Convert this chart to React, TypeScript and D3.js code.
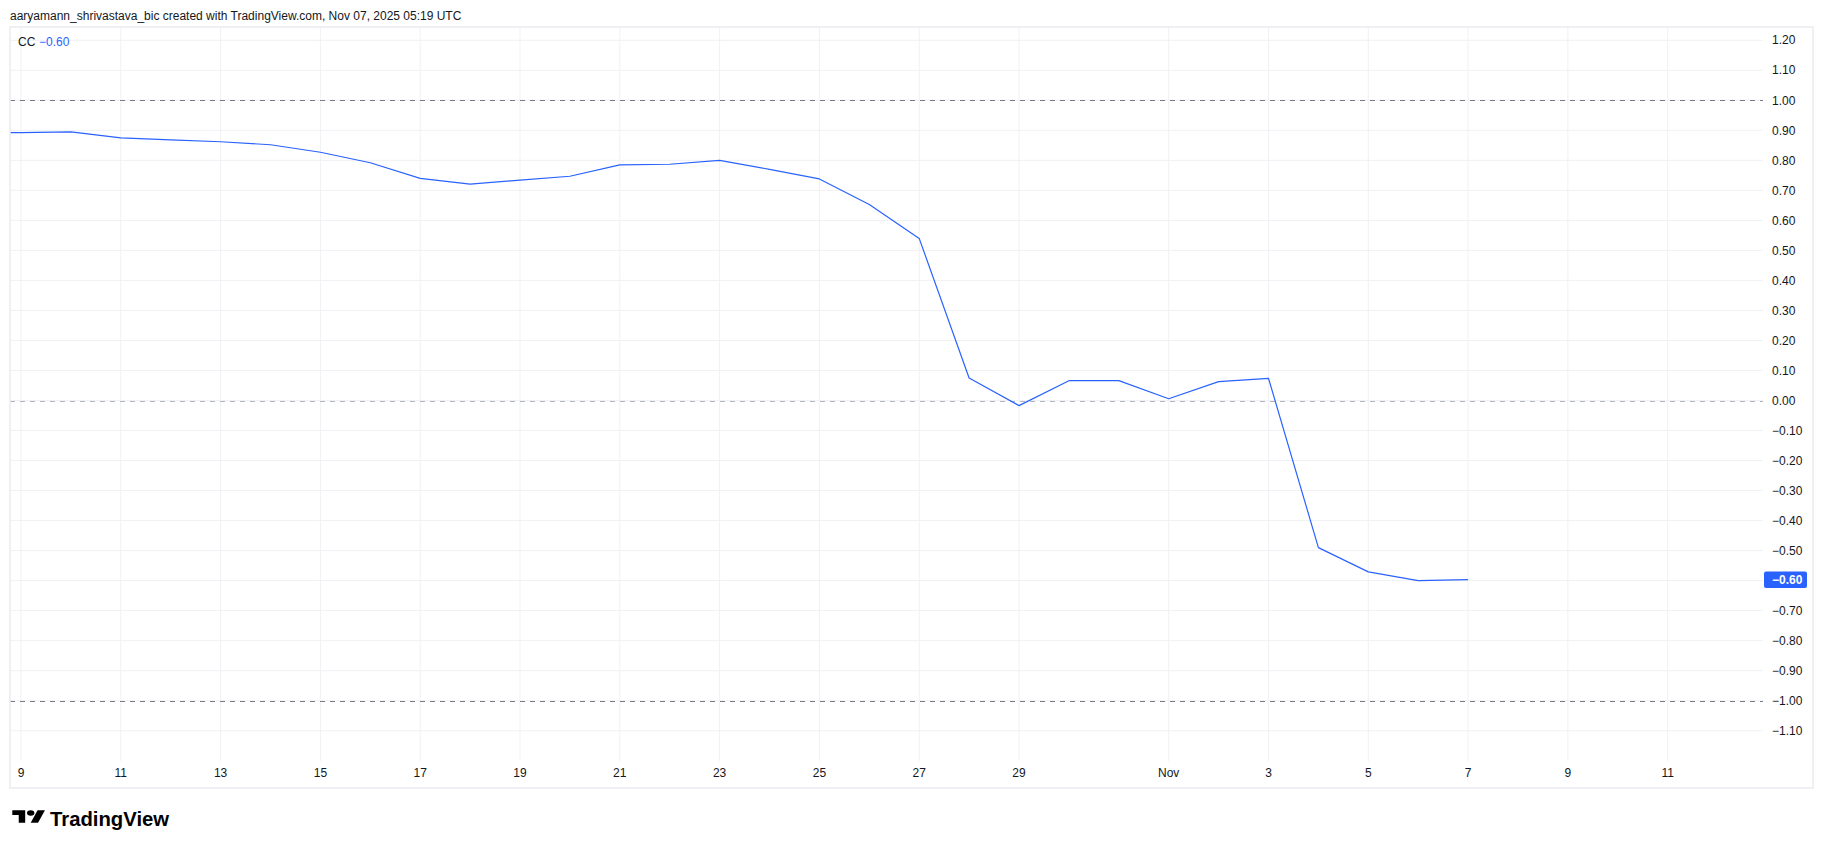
import * as d3 from 'd3';

const W = 1825, H = 849;
const PLOT = { left: 10, right: 1763, top: 27, bottom: 761 };
const FRAME = { left: 10, top: 27, right: 1813, bottom: 788 };
const FONT = '"Liberation Sans", Arial, sans-serif';
const TEXT = '#131722';
const BLUE = '#2962FF';

// daily CC values
const DATES = [
  '2025-10-08', '2025-10-09', '2025-10-10', '2025-10-11', '2025-10-12', '2025-10-13',
  '2025-10-14', '2025-10-15', '2025-10-16', '2025-10-17', '2025-10-18', '2025-10-19',
  '2025-10-20', '2025-10-21', '2025-10-22', '2025-10-23', '2025-10-24', '2025-10-25',
  '2025-10-26', '2025-10-27', '2025-10-28', '2025-10-29', '2025-10-30', '2025-10-31',
  '2025-11-01', '2025-11-02', '2025-11-03', '2025-11-04', '2025-11-05', '2025-11-06',
  '2025-11-07',
];
const CC = [
  0.892, 0.892, 0.895, 0.875, 0.868, 0.862,
  0.852, 0.827, 0.792, 0.740, 0.721, 0.734,
  0.747, 0.785, 0.787, 0.800, 0.770, 0.738,
  0.653, 0.540, 0.075, -0.017, 0.066, 0.066,
  0.006, 0.063, 0.074, -0.490, -0.571, -0.600,
  -0.597,
];

const Y_TICKS = [
  1.2, 1.1, 1.0, 0.9, 0.8, 0.7, 0.6, 0.5, 0.4, 0.3, 0.2, 0.1, 0.0,
  -0.1, -0.2, -0.3, -0.4, -0.5, -0.6, -0.7, -0.8, -0.9, -1.0, -1.1,
];
const BANDS = [1, 0, -1];
const X_TICKS = [
  '2025-10-09', '2025-10-11', '2025-10-13', '2025-10-15', '2025-10-17', '2025-10-19',
  '2025-10-21', '2025-10-23', '2025-10-25', '2025-10-27', '2025-10-29', '2025-11-01',
  '2025-11-03', '2025-11-05', '2025-11-07', '2025-11-09', '2025-11-11',
];
const X_LABELS = ['9', '11', '13', '15', '17', '19', '21', '23', '25', '27', '29', 'Nov', '3', '5', '7', '9', '11'];

const HEADER = 'aaryamann_shrivastava_bic created with TradingView.com, Nov 07, 2025 05:19 UTC';

const parse = (s: string) => new Date(s + 'T00:00:00Z');
const fmt = (v: number) => (v < 0 ? '\u2212' : '') + Math.abs(v).toFixed(2);

export default function App() {
  const x = d3.scaleUtc()
    .domain([parse('2025-10-09'), parse('2025-11-07')])
    .range([21, 21 + 29 * 49.9]);
  const y = d3.scaleLinear().domain([-1, 1]).range([700.7, 100.3]);

  const line = d3.line<number>()
    .x((_, i) => x(parse(DATES[i])))
    .y(v => y(v));

  const last = CC[CC.length - 1];
  const lastY = y(last);

  return (
    <svg width={W} height={H} viewBox={`0 0 ${W} ${H}`}
      style={{ position: 'absolute', left: 0, top: 0, background: '#fff' }}
      fontFamily={FONT}>
      <defs>
        <clipPath id="plot-clip">
          <rect x={PLOT.left} y={PLOT.top} width={PLOT.right - PLOT.left} height={PLOT.bottom - PLOT.top} />
        </clipPath>
      </defs>

      <text x={10} y={19.5} fontSize={12} fill={TEXT}>{HEADER}</text>

      {/* grid */}
      <g stroke="#F0F1F4" strokeWidth={1}>
        {Y_TICKS.map(t => (
          <line key={t} x1={PLOT.left} x2={PLOT.right} y1={y(t)} y2={y(t)} />
        ))}
        {X_TICKS.map(d => (
          <line key={d} x1={x(parse(d))} x2={x(parse(d))} y1={PLOT.top} y2={PLOT.bottom} />
        ))}
      </g>

      {/* band lines */}
      {BANDS.map(b => (
        <line key={b} x1={PLOT.left} x2={PLOT.right} y1={Math.round(y(b)) + 0.5} y2={Math.round(y(b)) + 0.5}
          stroke={b === 0 ? '#B2B5BE' : '#787B86'} strokeWidth={1} strokeDasharray="5 5" />
      ))}

      <g clipPath="url(#plot-clip)">
        <path d={line(CC) ?? ''} fill="none" stroke={BLUE} strokeWidth={1.2} strokeLinejoin="round" />
      </g>

      {/* legend */}
      <text x={18} y={46} fontSize={12} fill={TEXT}>CC</text>
      <text x={39} y={46} fontSize={12} fill={BLUE}>{fmt(-0.6)}</text>

      {/* price axis */}
      {Y_TICKS.map(t => (
        <text key={t} x={1772} y={y(t)} dy="0.35em" fontSize={12} fill={TEXT}>{fmt(t)}</text>
      ))}
      <rect x={1764} y={lastY - 8.2} width={43} height={16.4} rx={2} fill={BLUE} />
      <text x={1772} y={lastY} dy="0.35em" fontSize={12} fontWeight={600} fill="#fff">{fmt(last)}</text>

      {/* time axis */}
      {X_TICKS.map((d, i) => (
        <text key={d} x={x(parse(d))} y={773} dy="0.35em" fontSize={12} fill={TEXT} textAnchor="middle">{X_LABELS[i]}</text>
      ))}

      <rect x={FRAME.left} y={FRAME.top} width={FRAME.right - FRAME.left} height={FRAME.bottom - FRAME.top}
        fill="none" stroke="#E9EBEF" strokeWidth={1.5} />

      {/* watermark logo */}
      <g transform="translate(12.3,807.5) scale(0.92,0.69)" fill="#000">
        <path d="M14 22H7V11H0V4h14v18z" />
        <circle cx={20} cy={8} r={4} />
        <path d="M28 22h-8l7.5-18h8L28 22z" />
      </g>
      <text x={50} y={826} fontSize={20.3} fontWeight={700} fill="#000">TradingView</text>
    </svg>
  );
}
